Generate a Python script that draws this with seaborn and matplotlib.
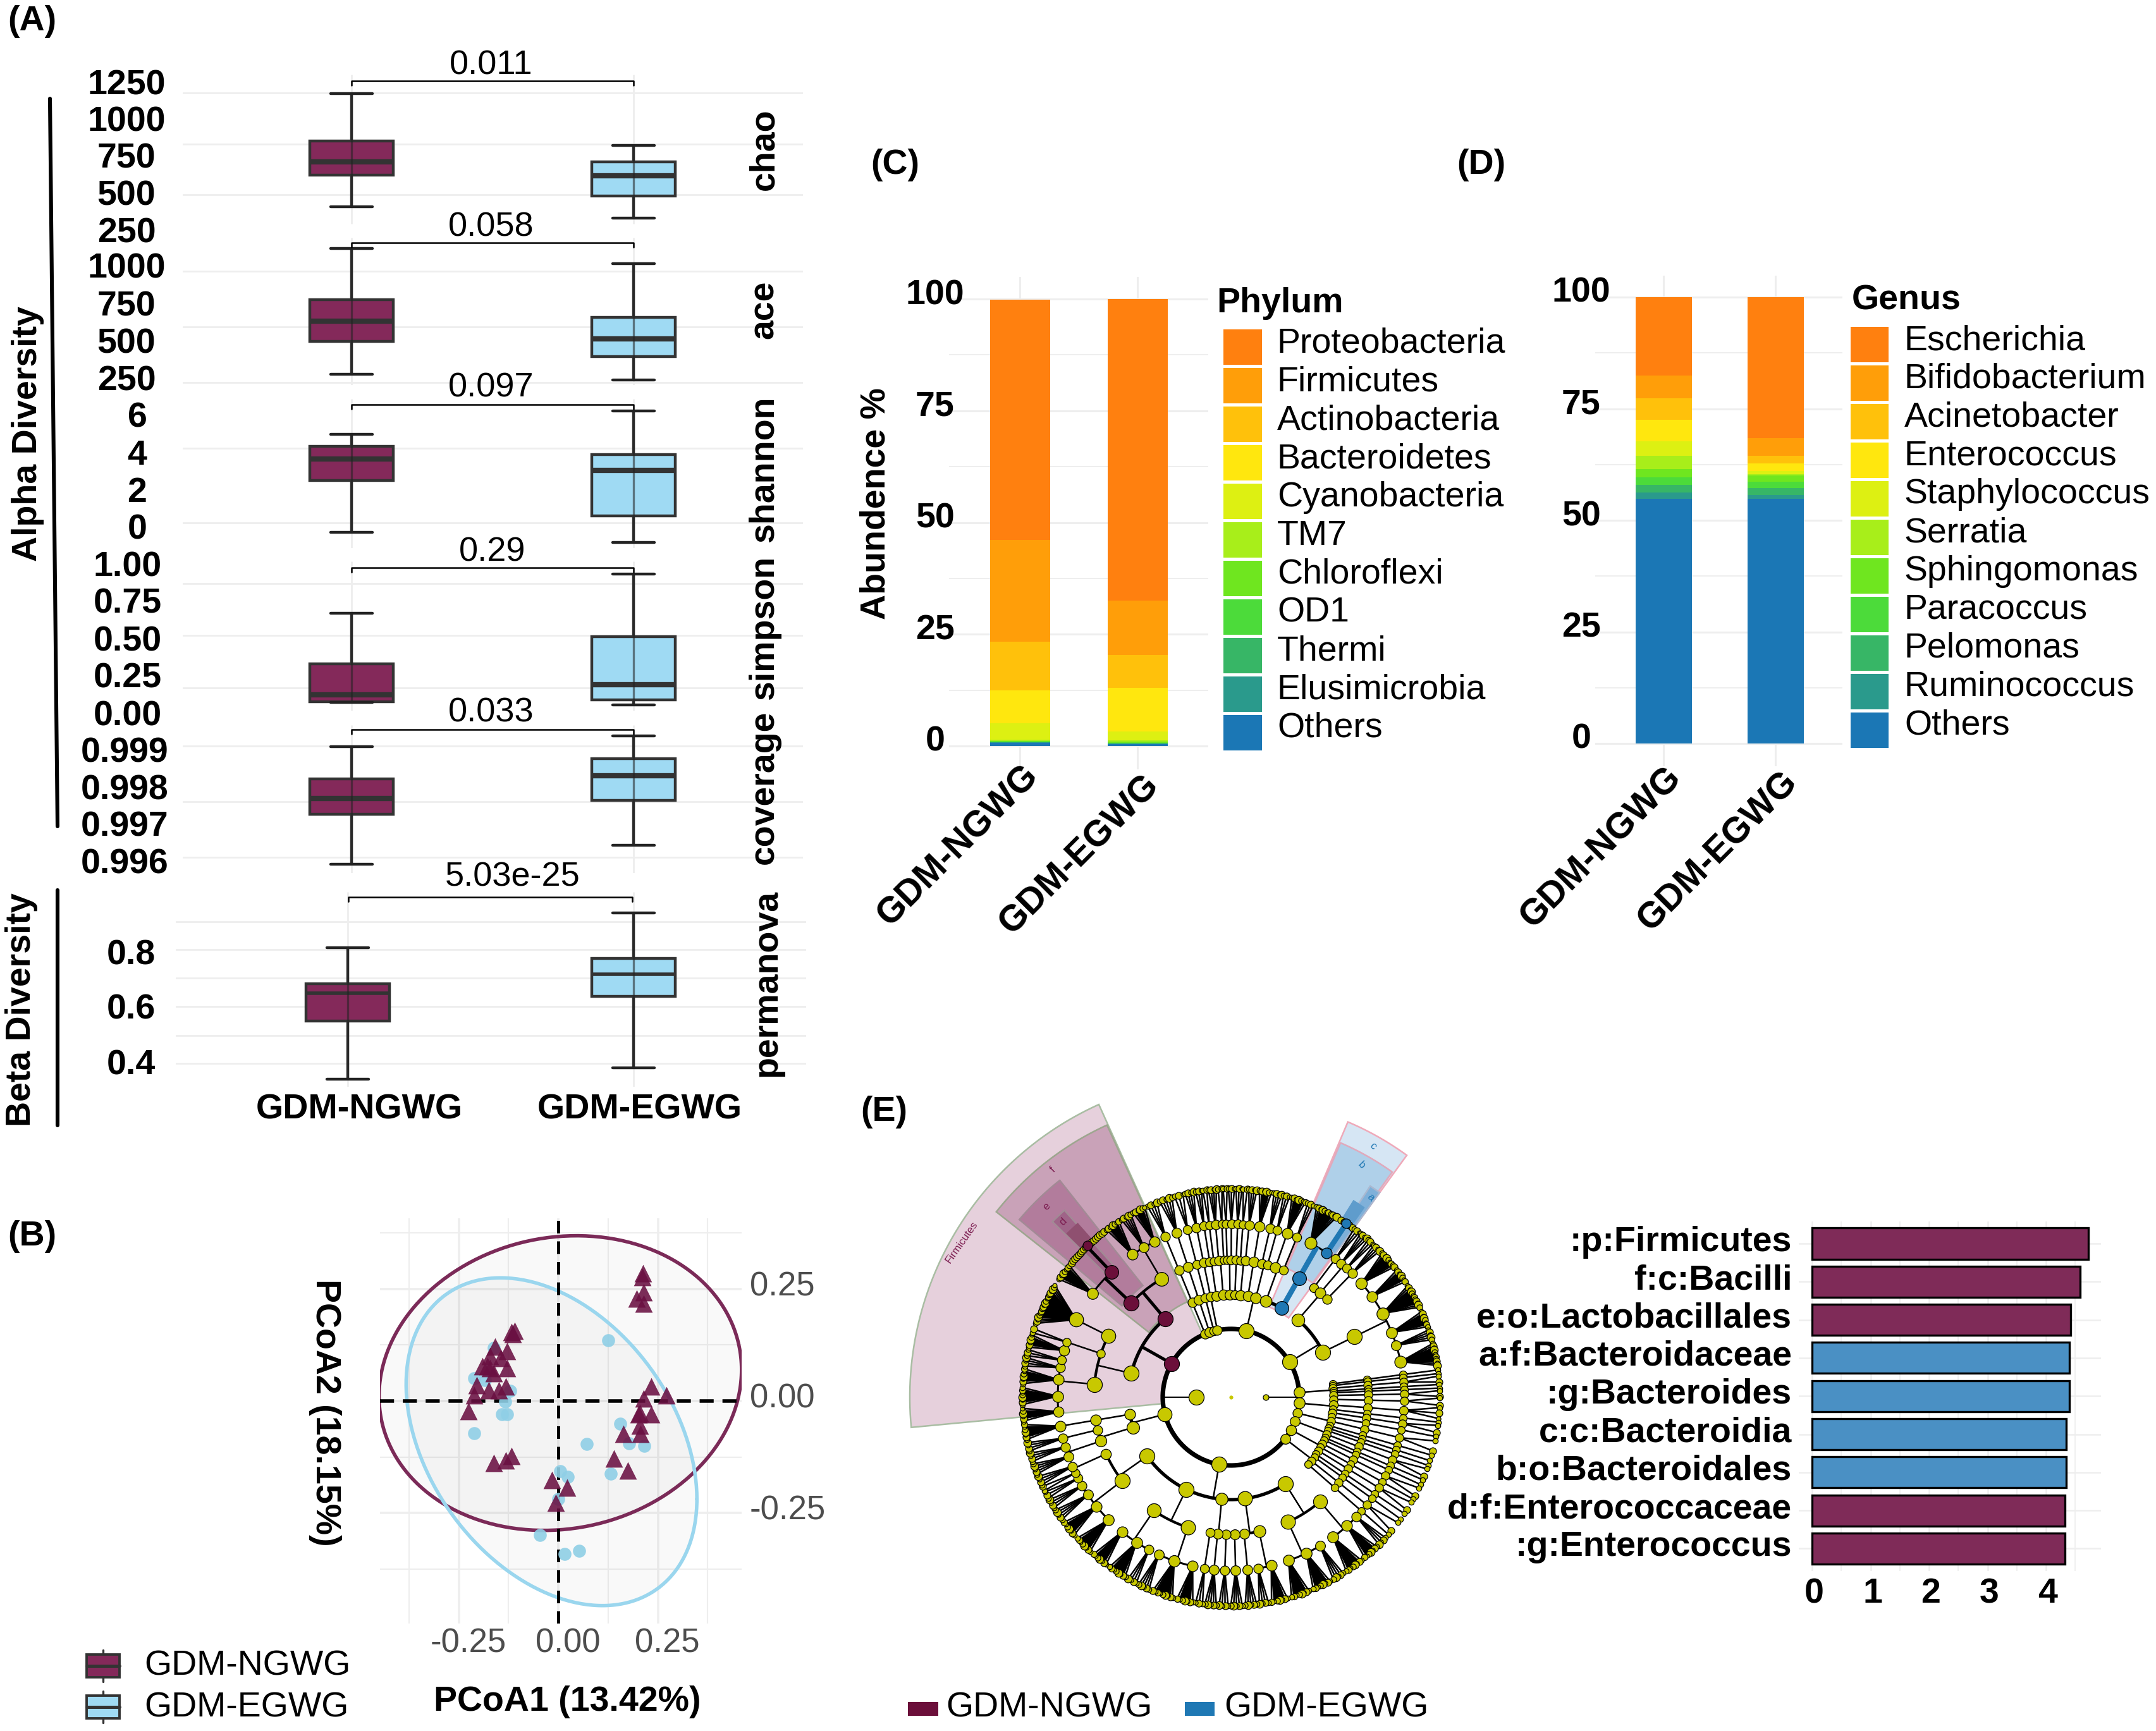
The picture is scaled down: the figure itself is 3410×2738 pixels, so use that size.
import numpy as np
import pandas as pd
import matplotlib
matplotlib.use('Agg')
import matplotlib.pyplot as plt
from matplotlib.patches import Polygon, Rectangle
from matplotlib.transforms import ScaledTranslation
import seaborn as sns

sns.set_theme(style='whitegrid')
plt.rcParams['font.family'] = ['Liberation Sans', 'DejaVu Sans']
plt.rcParams['text.color'] = 'black'

W, H, DPI = 3410, 2738, 200
PT = 72 / DPI  # one pixel in points

groups = ['GDM-NGWG', 'GDM-EGWG']
maroon = '#84295A'
sky = '#9FDAF3'
GRID = '#EEEEEE'

# --- panel A: low, q1, median, q3, high
chao_n = [411, 628, 717, 855, 1178]
chao_e = [336, 484, 622, 714, 829]
chao_ticks = [1250, 1000, 750, 500, 250]
chao_labels = ['1250', '1000', '750', '500', '250']
chao_grid = [1181, 836, 494]

ace_n = [283, 504, 638, 782, 1121]
ace_e = [244, 403, 521, 661, 1020]
ace_ticks = [1000, 750, 500, 250]
ace_labels = ['1000', '750', '500', '250']
ace_grid = [971, 599, 227]

shannon_n = [-0.24, 2.55, 3.70, 4.38, 5.03]
shannon_e = [-0.79, 0.65, 3.10, 3.94, 6.26]
shannon_ticks = [6, 4, 2, 0]
shannon_labels = ['6', '4', '2', '0']
shannon_grid = [4.28, 0.28]

simpson_n = [0.078, 0.082, 0.127, 0.333, 0.673]
simpson_e = [0.059, 0.095, 0.196, 0.516, 0.938]
simpson_ticks = [1.0, 0.75, 0.5, 0.25, 0.0]
simpson_labels = ['1.00', '0.75', '0.50', '0.25', '0.00']
simpson_grid = [0.873, 0.526, 0.173]

coverage_n = [0.99593, 0.99728, 0.99772, 0.99824, 0.99912]
coverage_e = [0.99645, 0.99767, 0.99834, 0.99880, 0.99941]
coverage_ticks = [0.999, 0.998, 0.997, 0.996]
coverage_labels = ['0.999', '0.998', '0.997', '0.996']
coverage_grid = [0.99913, 0.99763, 0.99612]

permanova_n = [0.340, 0.551, 0.653, 0.687, 0.819]
permanova_e = [0.382, 0.641, 0.722, 0.779, 0.945]
permanova_ticks = [0.8, 0.6, 0.4]
permanova_labels = ['0.8', '0.6', '0.4']
permanova_grid = [0.913, 0.811, 0.708, 0.605, 0.499, 0.398]

# --- panel B
tri_x = [.213, .211, .214, .197, .214, -.118, -.109, -.114, -.158, -.128, -.171, -.145, -.191, -.171,
         -.128, -.162, -.178, -.132, -.149, -.175, -.204, -.211, -.226, .234, .214, .272, .204, .234,
         .201, .204, .207, .163, .139, .175, -.162, -.132, -.118, -.016, .022, -.007]
tri_y = [.285, .277, .243, .228, .218, .154, .156, .149, .122, .111, .100, .096, .077, .073,
         .073, .062, .077, .033, .024, .024, .035, .013, -.023, .033, .005, .013, -.027, -.029,
         -.030, -.055, -.073, -.073, -.128, -.156, -.138, -.133, -.123, -.176, -.193, -.227]
dot_x = [.126, -.162, -.211, -.184, -.121, -.134, -.141, -.129, -.211, .155, .178, .216, .071, .132,
         .005, .024, .000, -.046, .016, .053]
dot_y = [.135, .119, .051, .047, .022, -.001, -.029, -.030, -.072, -.051, -.094, -.100, -.096, -.163,
         -.157, -.170, -.219, -.299, -.341, -.335]
# centre x, half width, centre y, half height, correlation
ell_n = (.005, .455, .040, .329, .09)
ell_e = (-.017, .365, -.091, .366, -.35)

# --- panels C, D
stack_colors = ['#FF800F', '#FF9E09', '#FFC10B', '#FFE70E', '#DDF012', '#A8EE1A',
                '#6FE61F', '#4CDB3A', '#37B666', '#2A9A8C', '#1B77B5']
phyla = ['Proteobacteria', 'Firmicutes', 'Actinobacteria', 'Bacteroidetes', 'Cyanobacteria', 'TM7',
         'Chloroflexi', 'OD1', 'Thermi', 'Elusimicrobia', 'Others']
phyla_n = [53.8, 22.7, 10.9, 7.4, 3.7, .2, .2, .1, .1, .1, .7]
phyla_e = [67.4, 12.2, 7.4, 9.8, 1.9, .3, .3, .1, .1, .1, .4]
genera = ['Escherichia', 'Bifidobacterium', 'Acinetobacter', 'Enterococcus', 'Staphylococcus', 'Serratia',
          'Sphingomonas', 'Paracoccus', 'Pelomonas', 'Ruminococcus', 'Others']
genera_n = [17.5, 5.1, 4.9, 4.8, 3.2, 3.0, 1.8, 1.7, 1.7, 1.5, 54.8]
genera_e = [31.6, 3.9, 1.8, 1.7, .6, .4, 1.4, 1.4, 1.5, .9, 54.8]

# --- panel E bars
lda_terms = [':p:Firmicutes', 'f:c:Bacilli', 'e:o:Lactobacillales', 'a:f:Bacteroidaceae', ':g:Bacteroides',
             'c:c:Bacteroidia', 'b:o:Bacteroidales', 'd:f:Enterococcaceae', ':g:Enterococcus']
lda_vals = [4.72, 4.58, 4.42, 4.40, 4.40, 4.35, 4.35, 4.32, 4.32]
lda_side = ['n', 'n', 'n', 'e', 'e', 'e', 'e', 'n', 'n']


# --- cladogram: lists are clades, ints are tips, M/B mark enriched nodes
def M(k):
    return ('m', k)


def B(k):
    return ('b', k)


clade_sectors = [
    (114, 110.5, 4), (110.5, 106, 5), (106, 103, 3), (103, 100, 4),
    (100, 54, [[3, 2], [4, 2], [2, 3], [3], [2, 4], [6], [4, 3], [7, 3],
               B([B([11, B([2, 1, B(1), 2, 1])])])]),
    (54, 8, [[3, [4, 3], [4]], [[9, 7, 12, 8, 5, 11]]]),
    (8, 0, [1, 1, 2, 1, 1, 2]), (0, -10, [2, 3, 1, 2]), (-10, -17, [1, 2, 1]),
    (-17, -24, [1, 1, 2, 1]), (-24, -33, [1, 2, 1, 2]), (-33, -42, [1, 1, 2, 1]),
    (-42, -158, [[[4, 7, 8], [5, 8, 8]], [[7, 4], 5, 5], [4, 5, 3], [[7, 9, 5], [4, 8, 7]],
                 [[8, 7, 5, 4, 3], [2, 4]]]),
    (-158, -173, [[[5, 4], [4]], [[7]]]),
    (187, 114, M([[[6, 8, 7, 4, 3, 6], [2], [20]],
                  M([M([8, M([1] * 9 + [M(1)] + [1] * 8)]), [7, 5, 6]])])),
]

fig = plt.figure(figsize=(W / DPI, H / DPI), dpi=DPI)


def px_axes(x0, y0, x1, y1):
    ax = fig.add_axes([x0 / W, 1 - y1 / H, (x1 - x0) / W, (y1 - y0) / H])
    ax.patch.set_alpha(0)
    sns.despine(ax=ax, left=True, bottom=True)
    ax.set_axisbelow(True)
    return ax


def shift_labels(labels, dx, dy):
    for lab in labels:
        lab.set_transform(lab.get_transform() + ScaledTranslation(dx / DPI, dy / DPI, fig.dpi_scale_trans))


def box_panel(vals_n, vals_e, ticks, labels, grid, gtop, gbot, pa, pb, xl, xr, cx0, cx1, lab_x, med=3.0):
    # pa, pb: pixel rows of the first and last tick label
    y0 = min(gtop, pa - 5)
    y1 = max(gbot, pb + 5)
    ax = px_axes(xl, y0, xr, y1)
    va, vb = ticks[0], ticks[-1]
    to_val = lambda p: va + (p - pa) * (vb - va) / (pb - pa)
    df = pd.DataFrame({'group': [groups[0]] * 5 + [groups[1]] * 5, 'value': list(vals_n) + list(vals_e)})
    ax.vlines([0, 1], to_val(gbot), to_val(gtop), color=GRID, lw=1.0, zorder=0)
    sns.boxplot(data=df, x='group', y='value', hue='group', order=groups, hue_order=groups,
                palette=[maroon, sky], saturation=1, width=132 / (cx1 - cx0), whis=(0, 100), fliersize=0,
                linecolor='#333333', linewidth=1.6, legend=False, ax=ax,
                medianprops={'linewidth': med, 'color': '#333333'},
                capprops={'linewidth': 1.6, 'color': '#222222'})
    ax.vlines(0, vals_n[0], vals_n[-1], color='#222222', lw=1.2, alpha=.55, zorder=6)
    ax.vlines(1, vals_e[0], vals_e[-1], color='#222222', lw=1.2, alpha=.55, zorder=6)
    unit = cx1 - cx0
    ax.set_xlim((xl - cx0) / unit, (xr - cx0) / unit)
    ax.set_ylim(to_val(y1), to_val(y0))
    ax.set_xlabel('')
    ax.set_ylabel('')
    ax.set_xticks([])
    ax.grid(False)
    ax.set_yticks(ticks)
    ax.set_yticklabels(labels, fontsize=20, fontweight='bold', ha='center', color='black')
    ax.set_yticks(grid, minor=True)
    ax.grid(True, which='minor', axis='y', color=GRID, lw=1.0)
    ax.tick_params(axis='y', which='both', length=0, pad=(xl - lab_x) * PT)
    shift_labels(ax.get_yticklabels(), 0, 2)
    return ax


box_panel(chao_n, chao_e, chao_ticks, chao_labels, chao_grid, 118, 354, 131, 365, 289, 1270, 556, 1002, 200)
box_panel(ace_n, ace_e, ace_ticks, ace_labels, ace_grid, 376, 609, 422, 600, 289, 1270, 556, 1002, 200)
box_panel(shannon_n, shannon_e, shannon_ticks, shannon_labels, shannon_grid, 631, 867, 658, 835, 289, 1270, 556, 1002, 217)
box_panel(simpson_n, simpson_e, simpson_ticks, simpson_labels, simpson_grid, 888, 1124, 893, 1129, 289, 1270, 556, 1002, 202)
box_panel(coverage_n, coverage_e, coverage_ticks, coverage_labels, coverage_grid, 1147, 1381, 1188, 1363, 289, 1270, 556, 1002, 197)
box_panel(permanova_n, permanova_e, permanova_ticks, permanova_labels, permanova_grid, 1411, 1719, 1507, 1681, 278, 1275, 550, 1002, 207, med=2.0)

# --- panel B
axb = px_axes(601, 1927, 1173, 2568)
for (cx, ax_, cy, ay, rho), col in zip([ell_n, ell_e], ['#7B2A58', '#9AD6EE']):
    t = np.linspace(0, 2 * np.pi, 300)
    ex = cx + ax_ * np.cos(t)
    ey = cy + ay * np.cos(t - np.arccos(rho))
    axb.fill(ex, ey, color='#444444', alpha=.03, lw=0, zorder=1)
    axb.plot(ex, ey, color=col, lw=2.0, zorder=2)
axb.axhline(0, color='black', lw=2.0, dashes=(4, 2.5), zorder=3)
axb.axvline(0, color='black', lw=1.8, dashes=(4, 2.5), zorder=3)
sns.scatterplot(x=dot_x, y=dot_y, color='#8FCFE6', s=55, alpha=.9, linewidth=0, ax=axb, zorder=4)
sns.scatterplot(x=tri_x, y=tri_y, marker='^', color='#6A1042', s=100, alpha=.88, linewidth=0, ax=axb, zorder=5)
axb.set_xlim((601 - 883) / 630, (1173 - 883) / 630)
axb.set_ylim(-.497, .408)
axb.grid(False)
axb.set_xticks([-.25, 0, .25])
axb.set_xticklabels(['-0.25', '0.00', '0.25'], fontsize=19, color='#4D4D4D')
axb.set_xticks([-.375, -.125, .125, .375], minor=True)
axb.set_yticks([-.25, 0, .25])
axb.set_yticklabels(['-0.25', '0.00', '0.25'], fontsize=19, color='#4D4D4D', ha='left')
axb.set_yticks([-.375, -.125, .125, .375], minor=True)
axb.yaxis.tick_right()
axb.grid(True, which='major', color=GRID, lw=1.3)
axb.grid(True, which='minor', color=GRID, lw=.8)
axb.tick_params(which='both', length=0)
axb.tick_params(axis='y', pad=13 * PT)
axb.tick_params(axis='x', pad=6 * PT)
shift_labels(axb.get_xticklabels(), 15, 0)
shift_labels(axb.get_yticklabels(), 0, 9)


# --- panels C and D
def stack_panel(names, vals_n, vals_e, box, cx0, cx1, bar_w, y100, y0):
    x0, yt, x1, yb = box
    ax = px_axes(x0, yt, x1, yb)
    df = pd.DataFrame({'group': [groups[0]] * len(names) + [groups[1]] * len(names),
                       'taxon': names + names, 'value': vals_n + vals_e})
    sns.histplot(data=df, x='group', hue='taxon', weights='value', multiple='stack', discrete=True,
                 shrink=bar_w / (cx1 - cx0), hue_order=names, palette=stack_colors, alpha=1, linewidth=0,
                 legend=False, ax=ax)
    unit = cx1 - cx0
    per = (y0 - y100) / 100
    ax.set_xlim((x0 - cx0) / unit, (x1 - cx0) / unit)
    ax.set_ylim(-(yb - y0) / per, 100 + (y100 - yt) / per)
    ax.set_xlabel('')
    ax.set_ylabel('')
    ax.grid(False)
    ax.set_xticks([0, 1])
    ax.set_xticklabels([])
    ax.set_yticks([0, 25, 50, 75, 100])
    ax.set_yticklabels(['0', '25', '50', '75', '100'], fontsize=20, fontweight='bold', ha='center', color='black')
    ax.set_yticks([12.5, 37.5, 62.5, 87.5], minor=True)
    ax.grid(True, which='major', color=GRID, lw=1.1)
    ax.grid(True, which='minor', axis='y', color=GRID, lw=.7)
    ax.tick_params(which='both', length=0)
    ax.tick_params(axis='y', pad=22 * PT)
    shift_labels(ax.get_yticklabels(), 0, 12)
    return ax


stack_panel(phyla, phyla_n, phyla_e, (1501, 438, 1911, 1217), 1613, 1799, 95, 473, 1180)
stack_panel(genera, genera_n, genera_e, (2523, 436, 2914, 1212), 2631, 2808, 89, 470, 1176)

# --- panel E bars
axe = px_axes(2845, 1932, 3323, 2485)
sns.barplot(x=lda_vals, y=lda_terms, hue=lda_terms, hue_order=lda_terms, orient='h', legend=False, width=.815,
            palette=['#7F2B58' if s == 'n' else '#4A90C4' for s in lda_side], saturation=1,
            edgecolor='black', linewidth=1.2, ax=axe)
axe.set_xlim(-.227, 4.94)
axe.set_ylim(8.59, -.58)
axe.grid(False)
axe.set_xticks([0, 1, 2, 3, 4])
axe.set_xticks([.5, 1.5, 2.5, 3.5, 4.5], minor=True)
axe.grid(True, which='major', color=GRID, lw=.9)
axe.grid(True, which='minor', axis='x', color=GRID, lw=.6)
axe.tick_params(which='both', length=0)
axe.tick_params(axis='y', labelsize=20, pad=11 * PT, labelcolor='black')
axe.tick_params(axis='x', labelsize=20, pad=10 * PT, labelcolor='black')
for lab in axe.get_xticklabels() + axe.get_yticklabels():
    lab.set_fontweight('bold')
shift_labels(axe.get_yticklabels(), 0, 8)
shift_labels(axe.get_xticklabels(), 3, 0)

# --- overlay drawn in picture pixels
ov = fig.add_axes([0, 0, 1, 1], zorder=0)
ov.set_xlim(0, W)
ov.set_ylim(H, 0)
ov.axis('off')
ov.patch.set_alpha(0)
CX, CY = 1947, 2210
RINGS = [108, 162, 217, 274, 330]


def pol(r, a):
    return CX + r * np.cos(np.radians(a)), CY - r * np.sin(np.radians(a))


def sector(r0, r1, a0, a1, fc, ec):
    a = np.linspace(a0, a1, 60)
    xo, yo = pol(r1, a)
    xi, yi = pol(r0, a[::-1])
    ov.add_patch(Polygon(np.c_[np.r_[xo, xi], np.r_[yo, yi]], fc=fc, ec=ec, lw=.9, zorder=1))


sector(108, 508, 114.3, 185.4, '#E6D0DC', '#A9BDA3')
sector(166, 473, 114.5, 141.7, '#C9A2B8', '#9DA68F')
sector(225, 437, 128.3, 140, '#B27C9C', '#A28A95')
sector(280, 396, 131.7, 135.5, '#9F6488', '#A28A95')
sector(335, 366, 131.5, 135, '#8F5070', '#8F5070')
sector(155, 473, 54, 67, '#D6E6F4', '#EFA9B9')
sector(222, 438, 54.4, 66.7, '#AFD0E9', '#E0A9BC')
sector(280, 400, 54, 56.6, '#7FB0D9', '#A9B8D0')
sector(335, 366, 55, 58, '#5F9CCC', '#5F9CCC')

seg_thin, seg_blue, seg_thick, arcs, nodes = [], [], [], [], []
MCOL = {None: '#C8C800', 'm': '#6B0F3A', 'b': '#1F78B4'}
ARC_W = [2.6, 1.9, 1.5, 1.1, .8]
TIP_R = [4.2, 5.5, 3.6, 6.2, 4.6, 3.4, 5.0]


def tips(node):
    if isinstance(node, tuple):
        return tips(node[1])
    if isinstance(node, int):
        return node
    return sum(tips(k) for k in node)


def unwrap(node):
    return node if isinstance(node, tuple) else (None, node)


def grow(node, a0, a1, d):
    mark, body = unwrap(node)
    a = (a0 + a1) / 2
    nt = tips(node)
    rad = min(12, 4.5 + 1.5 * np.sqrt(nt)) if d < 4 else (7.5 if mark else 5.5)
    nodes.append((RINGS[d], a, rad, MCOL[mark]))
    if isinstance(body, int):
        if d == 4:
            return
        if d < 3:
            seg_thin.append((RINGS[d], a, RINGS[d + 1], a))
            grow(body, a0, a1, d + 1)
            return
        # fan to the outer ring, big fans close up into a black wedge
        edge = (a0 - a1) * .24
        lo, hi = a0 - edge, a1 + edge
        ang = np.linspace(a0 - .1 * (a0 - a1), a1 + .1 * (a0 - a1), body) if body > 1 else [a]
        if body >= 6:
            arr = np.linspace(lo, hi, 12)
            xo, yo = pol(RINGS[4], arr)
            xc, yc = pol(RINGS[3], a)
            ov.add_patch(Polygon(np.c_[np.r_[xc, xo], np.r_[yc, yo]], fc='black', ec='black', lw=.3, zorder=3))
        for i, b in enumerate(ang):
            seg_thin.append((RINGS[3], a, RINGS[4], b))
            nodes.append((RINGS[4], b, TIP_R[i % len(TIP_R)], MCOL[None]))
        return
    n = [tips(k) for k in body]
    cuts = a0 + (a1 - a0) * np.r_[0, np.cumsum(n)] / sum(n)
    mids = (cuts[:-1] + cuts[1:]) / 2
    target = seg_blue if mark == 'b' else (seg_thick if mark == 'm' else seg_thin)
    target.append((RINGS[d], a, RINGS[d + 1], a))
    if len(body) > 1:
        arcs.append((RINGS[d + 1], mids[0], mids[-1], ARC_W[d + 1]))
    for k, c0, c1 in zip(body, cuts[:-1], cuts[1:]):
        grow(k, c0, c1, d + 1)


for s0, s1, node in clade_sectors:
    grow(node, s0, s1, 0)

th = np.linspace(0, 360, 400)
ov.plot(*pol(RINGS[0], th), color='black', lw=ARC_W[0], zorder=4)
for r, a0, a1, lw in arcs:
    ov.plot(*pol(r, np.linspace(a0, a1, 40)), color='black', lw=lw, zorder=4)
for segs, lw, col in [(seg_thin, .9, 'black'), (seg_thick, 1.8, 'black'), (seg_blue, 3.0, '#1F78B4')]:
    for r0, a0, r1, a1 in segs:
        x0, y0 = pol(r0, a0)
        x1, y1 = pol(r1, a1)
        ov.plot([x0, x1], [y0, y1], color=col, lw=lw, zorder=4, solid_capstyle='butt')
for ang, rad in [(180, 12), (0, 4.5)]:
    ov.plot(*zip(pol(55, ang), pol(RINGS[0], ang)), color='black', lw=.7, zorder=4)
    nodes.append((55, ang, rad, MCOL[None]))
nodes.sort(key=lambda n: n[3] != MCOL[None])
for r, a, rad, col in nodes:
    x, y = pol(r, a)
    ov.scatter([x], [y], s=(2 * rad * PT) ** 2, color=col, edgecolor='black', linewidth=.45, zorder=5)
ov.scatter([CX], [CY], s=1.5, color=MCOL[None], zorder=5)
ov.text(1400 + 200 / 1.65, 1700 + 415 / 1.568, 'Firmicutes', fontsize=6, color='#7B1B4F', rotation=55, ha='center', va='center', zorder=6)
for tx, ty, s, col in [(1665, 1850, 'f', '#7B1B4F'), (1655, 1909, 'e', '#7B1B4F'), (1681, 1933, 'd', '#7B1B4F'),
                       (2171, 1813, 'c', '#1F78B4'), (2153, 1843, 'b', '#1F78B4'), (2168, 1894, 'a', '#1F78B4')]:
    ov.text(tx, ty, s, fontsize=6, color=col, rotation=-45 if col == '#1F78B4' else 45, ha='center', va='center', zorder=6)

# brackets and p values
brackets = [(556, 1002, 128, '0.011', 777, 103), (556, 1002, 384, '0.058', 777, 359),
            (556, 1002, 640, '0.097', 777, 613), (556, 1002, 898, '0.29', 779, 873),
            (556, 1002, 1154, '0.033', 777, 1128), (551, 1000, 1419, '5.03e-25', 811, 1388)]
for x0, x1, y, txt, tx, ty in brackets:
    ov.plot([x0, x0, x1, x1], [y + 7, y, y, y + 7], color='black', lw=.9)
    ov.text(tx, ty, txt, fontsize=19.5, ha='center', va='center')

# strip labels and side titles
for txt, x, y in [('chao', 1209, 236), ('ace', 1209, 490), ('shannon', 1209, 742), ('simpson', 1209, 993),
                  ('coverage', 1209, 1245), ('permanova', 1213, 1555)]:
    ov.text(x, y, txt, fontsize=20, fontweight='bold', rotation=90, ha='center', va='center')
ov.text(44, 686, 'Alpha Diversity', fontsize=20, fontweight='bold', rotation=90, ha='center', va='center')
ov.text(34, 1597, 'Beta Diversity', fontsize=20, fontweight='bold', rotation=90, ha='center', va='center')
ov.plot([79, 91], [156, 1307], color='black', lw=2.2)
ov.plot([91, 91], [1408, 1780], color='black', lw=2.2)
ov.text(568, 1756, groups[0], fontsize=20, fontweight='bold', ha='center', va='center')
ov.text(1012, 1756, groups[1], fontsize=20, fontweight='bold', ha='center', va='center')

for txt, x, y in [('(A)', 51, 34), ('(B)', 51, 1956), ('(C)', 1416, 261), ('(D)', 2343, 261), ('(E)', 1398, 1759)]:
    ov.text(x, y, txt, fontsize=20, fontweight='bold', ha='center', va='center')

ov.text(897, 2692, 'PCoA1 (13.42%)', fontsize=20, fontweight='bold', ha='center', va='center')
ov.text(514, 2234, 'PCoA2 (18.15%)', fontsize=20, fontweight='bold', rotation=-90, ha='center', va='center')
ov.text(1386, 797, 'Abundence %', fontsize=20, fontweight='bold', rotation=90, ha='center', va='center')

# legend of panel B
for name, y, col in [(groups[0], 2635, maroon), (groups[1], 2700, sky)]:
    ov.plot([163, 163], [y - 25, y + 25], color='#333333', lw=1.2)
    ov.add_patch(Rectangle((137, y - 18), 52, 36, fc=col, ec='#333333', lw=1.4, zorder=3))
    ov.plot([137, 189], [y, y], color='#333333', lw=1.8, zorder=4)
    ov.text(228, y + 1, name, fontsize=20, ha='left', va='center')

# legends of C and D
for title, names, tx, ty, kx0, kx1, ktop, txtx, txty in [
        ('Phylum', phyla, 1924, 480, 1935, 1996, 521, 2020, 544),
        ('Genus', genera, 2929, 475, 2927, 2987, 517, 3012, 539)]:
    ov.text(tx, ty, title, fontsize=20, fontweight='bold', ha='left', va='center')
    for i, (nm, col) in enumerate(zip(names, stack_colors)):
        ov.add_patch(Rectangle((kx0, ktop + i * 61), kx1 - kx0, 56, fc=col, ec='none'))
        ov.text(txtx, txty + i * 60.8, nm, fontsize=20, ha='left', va='center')

# rotated group names
for x, y, s in [(1515, 1337, groups[0]), (1707, 1351, groups[1]), (2532, 1340, groups[0]), (2717, 1346, groups[1])]:
    ov.text(x, y, s, fontsize=20.5, fontweight='bold', rotation=45, ha='center', va='center')

# legend of panel E
for name, kx0, kx1, tx, col in [(groups[0], 1436, 1484, 1496, '#6B0F3A'), (groups[1], 1874, 1921, 1936, '#1F78B4')]:
    ov.add_patch(Rectangle((kx0, 2692), kx1 - kx0, 22, fc=col, ec='none'))
    ov.text(tx, 2701, name, fontsize=20, ha='left', va='center')

fig.savefig('out.png', dpi=DPI)
